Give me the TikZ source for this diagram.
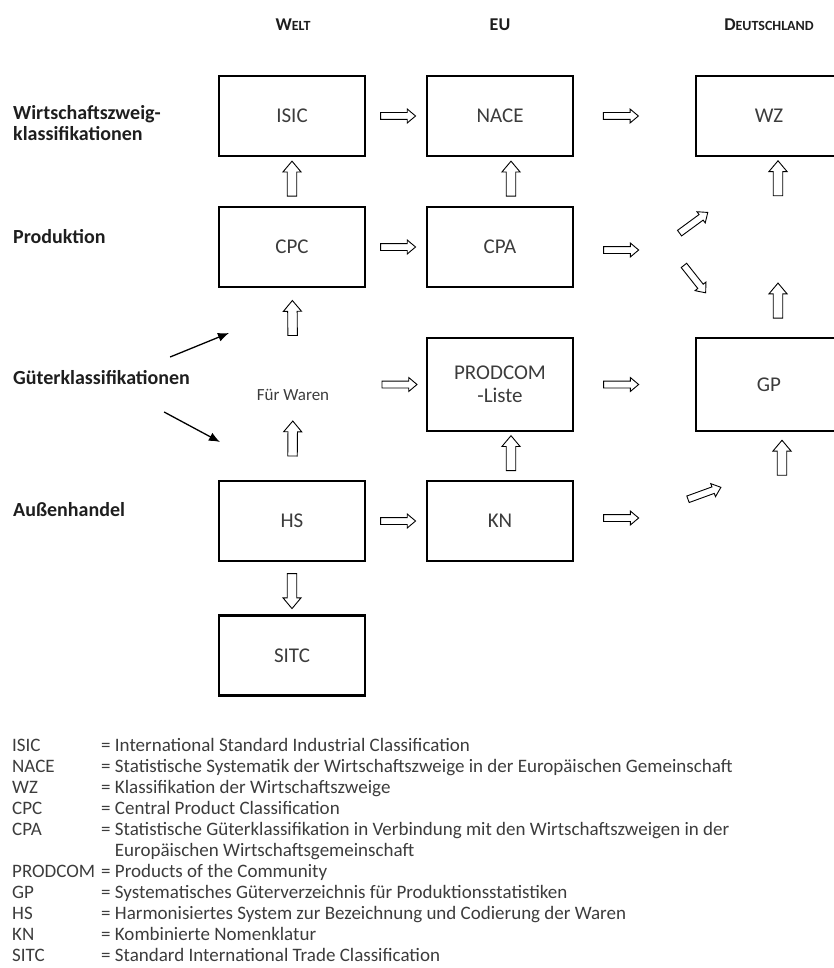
\documentclass[tikz,border=0pt]{standalone}
\usepackage{fontspec}
\setmainfont{Carlito}
\usepackage{xcolor}
\usetikzlibrary{arrows.meta,positioning,shapes.arrows}

\definecolor{boxtext}{HTML}{3C3C3C}
\definecolor{labeltext}{HTML}{1E1E1E}
\newcommand{\kapit}[2]{#1{\fontsize{14}{16}\selectfont #2}}

\begin{document}
\begin{tikzpicture}[
  x=1pt, y=-1pt,
  box/.style={draw, line width=2.4pt, minimum width=146pt, minimum height=80pt,
              inner sep=0pt, align=center, text=boxtext,
              font=\fontsize{21}{23}\selectfont},
  tallbox/.style={box, minimum height=93pt},
  row/.style={anchor=west, inner sep=0pt, align=left, text=labeltext,
              font=\bfseries\fontsize{20}{21}\selectfont},
  head/.style={text=labeltext, font=\bfseries\fontsize{18}{20}\selectfont},
  harr/.style={draw, line width=0.9pt, single arrow, inner xsep=0pt, inner ysep=3pt,
               minimum width=13pt, minimum height=35pt,
               single arrow head extend=3.5pt, single arrow tip angle=80,
               sloped, allow upside down},
  varr/.style={harr, inner ysep=4.3pt, minimum width=17pt, single arrow head extend=4.3pt},
  arr/.style={line width=1.3pt, -{Latex[length=11pt, width=9pt]}},
  legend/.style={anchor=base west, inner sep=0pt, text=boxtext,
                 font=\fontsize{19}{21}\selectfont}
]
\useasboundingbox (0,0) rectangle (834,968);

% column heads
\node[head] (welt) at (293,25) {\kapit{W}{ELT}};
\node[head] (eu) at (500,25) {EU};
\node[head] (de) at (769,25) {\kapit{D}{EUTSCHLAND}};

% row labels
\node[row] (wirt) at (13,123) {Wirtschaftszweig-\\klassifikationen};
\node[row] (prod) at (13,237) {Produktion};
\node[row] (gueter) at (13,378) {Güterklassifikationen};
\node[row] (aussen) at (13,510) {Außenhandel};

% boxes
\node[box] (isic) at (292,116) {ISIC};
\node[box] (nace) at (500,116) {NACE};
\node[box] (wz) at (769,116) {WZ};
\node[box] (cpc) at (292,247) {CPC};
\node[box] (cpa) at (500,247) {CPA};
\node[text=boxtext, inner sep=2pt, font=\fontsize{17}{19}\selectfont] (waren) at (293,395) {Für Waren};
\node[tallbox] (prodcom) at (500,384.5) {PRODCOM\\-Liste};
\node[tallbox] (gp) at (769,384.5) {GP};
\node[box] (hs) at (292,521) {HS};
\node[box] (kn) at (500,521) {KN};
\node[box] (sitc) at (292,655.5) {SITC};

% free ends
\coordinate (cpa-out) at (664,250);
\coordinate (prodcom-out) at (664,384.5);
\coordinate (kn-out) at (664,518);
\coordinate (wz-in) at (778,205);
\coordinate (gp-top) at (778,270);
\coordinate (gp-in) at (782,489);
\coordinate (wz-a) at (677,235);
\coordinate (wz-b) at (707,213);
\coordinate (gp-a) at (682,263);
\coordinate (gp-b) at (705,292);
\coordinate (kn-a) at (686,500);
\coordinate (kn-b) at (719,488);
\coordinate (gk-up) at (229,333);
\coordinate (gk-down) at (220,442);

% hollow arrows
\path (isic) -- node[harr]{} (nace);
\path (nace) -- node[harr, pos=.37]{} (wz);
\path (cpc) -- node[harr]{} (cpa);
\path (cpa.east |- cpa-out) -- node[harr]{} (cpa-out);
\path (waren.east |- prodcom.west) -- node[harr, pos=.7]{} (prodcom.west);
\path (prodcom.east) -- node[harr]{} (prodcom-out);
\path (hs) -- node[harr]{} (kn);
\path (kn.east |- kn-out) -- node[harr]{} (kn-out);
\path (wz-a) -- node[harr]{} (wz-b);
\path (gp-a) -- node[harr]{} (gp-b);
\path (kn-a) -- node[harr]{} (kn-b);

\path (cpc) -- node[varr]{} (isic);
\path ([xshift=11pt]cpa.north) -- node[varr]{} ([xshift=11pt]nace.south);
\path (wz-in) -- node[varr]{} ([xshift=9pt]wz.south);
\path (waren) -- node[varr, pos=.67]{} (cpc);
\path (hs) -- node[varr]{} (waren);
\path ([xshift=11pt]kn.north) -- node[varr]{} ([xshift=11pt]prodcom.south);
\path ([xshift=9pt]gp.north) -- node[varr]{} (gp-top);
\path (gp-in) -- node[varr]{} ([xshift=13pt]gp.south);
\path (hs) -- node[varr]{} (sitc);

% pointers from the label
\draw[arr] ([xshift=-20pt, yshift=21pt]gueter.east) -- (gk-up);
\draw[arr] ([xshift=-26pt, yshift=-34pt]gueter.east) -- (gk-down);

% legend
\node[legend] (legend) at (12,751) {%
\begin{tabular}[t]{@{}p{89pt}@{}l@{}}
ISIC & = International Standard Industrial Classification\\
NACE & = Statistische Systematik der Wirtschaftszweige in der Europäischen Gemeinschaft\\
WZ & = Klassifikation der Wirtschaftszweige\\
CPC & = Central Product Classification\\
CPA & = Statistische Güterklassifikation in Verbindung mit den Wirtschaftszweigen in der\\
 & \phantom{= }Europäischen Wirtschaftsgemeinschaft\\
PRODCOM & = Products of the Community\\
GP & = Systematisches Güterverzeichnis für Produktionsstatistiken\\
HS & = Harmonisiertes System zur Bezeichnung und Codierung der Waren\\
KN & = Kombinierte Nomenklatur\\
SITC & = Standard International Trade Classification
\end{tabular}};
\end{tikzpicture}
\end{document}
